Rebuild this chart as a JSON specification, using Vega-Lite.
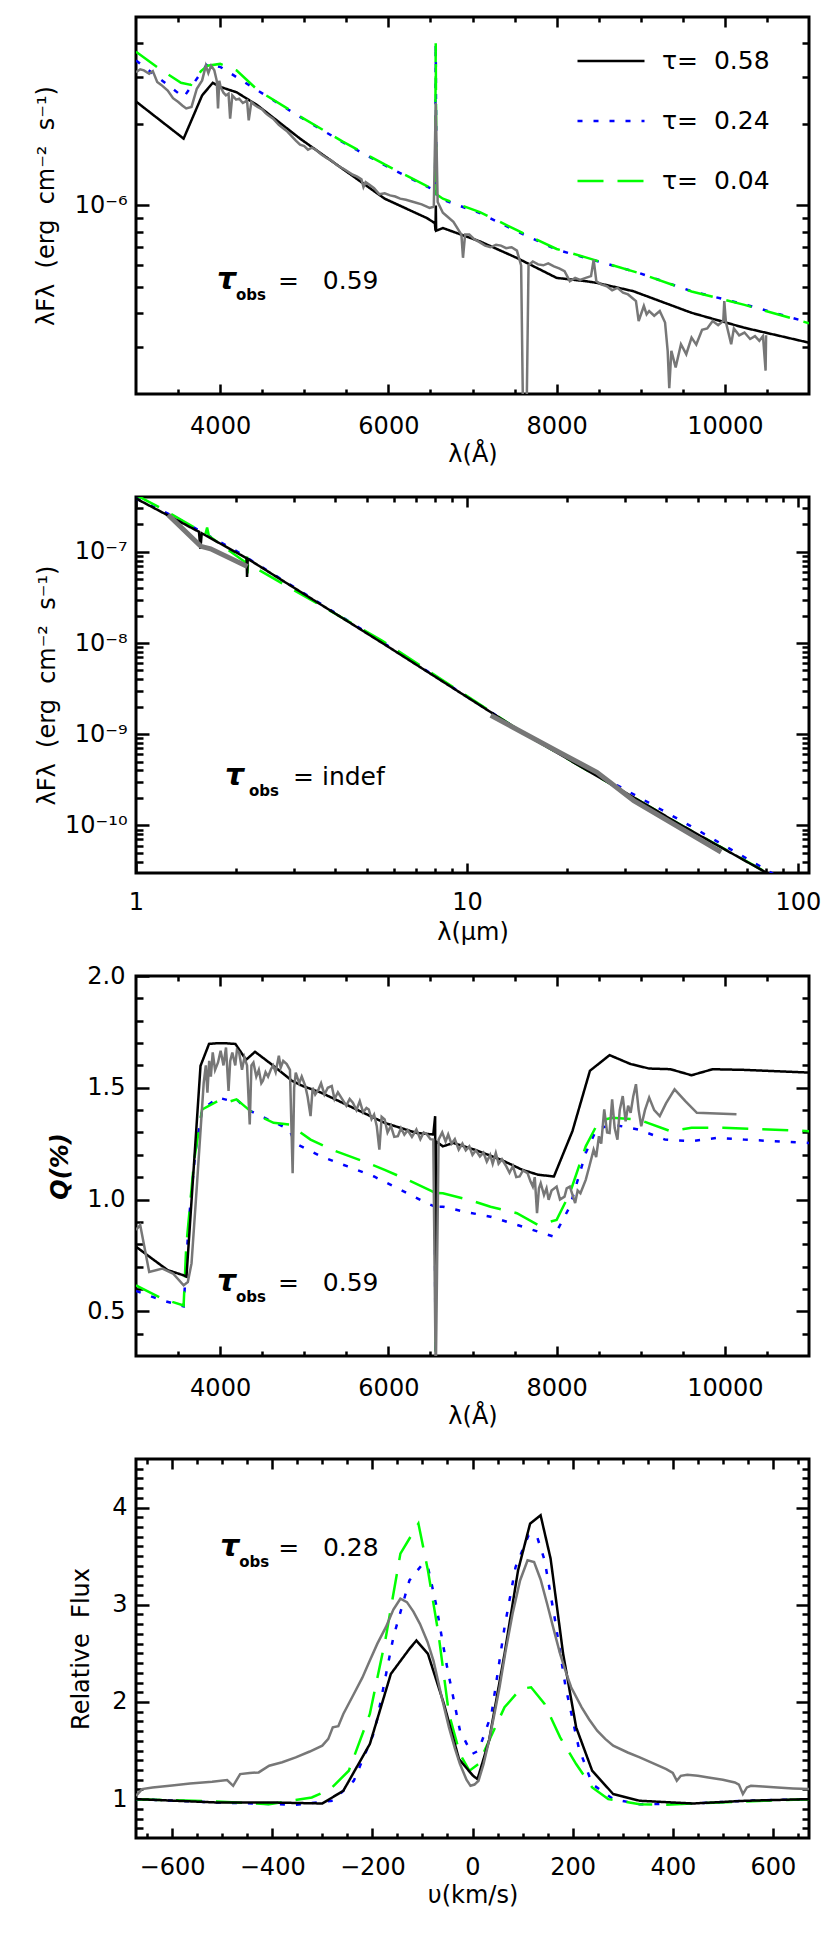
{
"$schema":"https://vega.github.io/schema/vega-lite/v6.json",
"background":"white",
"padding":{"left":32,"top":14,"right":5,"bottom":5},
"config":{
 "font":"DejaVu Sans",
 "view":{"stroke":"black","strokeWidth":3},
 "axis":{"domain":false,"grid":false,"tickColor":"black","tickWidth":2.5,"labelFont":"DejaVu Sans","labelFontSize":24,"labelColor":"black","titleFont":"DejaVu Sans","titleFontSize":24,"titleFontWeight":"normal","titleColor":"black","labelFlush":false,"labelOverlap":false,"labelBound":false}
},
"bounds":"flush",
"spacing":103,
"resolve":{"scale":{"x":"independent","y":"independent","color":"independent","strokeDash":"independent"},"legend":{"color":"independent","strokeDash":"independent"}},
"datasets":{
"p1obs":[{"x":3000,"y":3.12e-6},{"x":3050,"y":3.2e-6},{"x":3094,"y":3.17e-6},{"x":3157,"y":3.08e-6},{"x":3200,"y":3.15e-6},{"x":3252,"y":2.87e-6},{"x":3300,"y":2.8e-6},{"x":3377,"y":2.67e-6},{"x":3440,"y":2.5e-6},{"x":3503,"y":2.42e-6},{"x":3550,"y":2.35e-6},{"x":3597,"y":2.29e-6},{"x":3660,"y":2.32e-6},{"x":3723,"y":2.71e-6},{"x":3786,"y":2.91e-6},{"x":3830,"y":3.3e-6},{"x":3860,"y":3.1e-6},{"x":3893,"y":3.3e-6},{"x":3931,"y":3.17e-6},{"x":3960,"y":2.9e-6},{"x":3975,"y":2.29e-6},{"x":3990,"y":2.9e-6},{"x":4006,"y":2.75e-6},{"x":4040,"y":2.62e-6},{"x":4069,"y":2.56e-6},{"x":4100,"y":2.6e-6},{"x":4119,"y":2.1e-6},{"x":4145,"y":2.56e-6},{"x":4190,"y":2.47e-6},{"x":4226,"y":2.49e-6},{"x":4270,"y":2.4e-6},{"x":4320,"y":2.45e-6},{"x":4340,"y":2.07e-6},{"x":4371,"y":2.42e-6},{"x":4410,"y":2.36e-6},{"x":4446,"y":2.32e-6},{"x":4500,"y":2.27e-6},{"x":4540,"y":2.2e-6},{"x":4572,"y":2.16e-6},{"x":4630,"y":2.1e-6},{"x":4698,"y":1.99e-6},{"x":4760,"y":1.92e-6},{"x":4800,"y":1.88e-6},{"x":4855,"y":1.8e-6},{"x":4900,"y":1.74e-6},{"x":4950,"y":1.68e-6},{"x":5000,"y":1.66e-6},{"x":5044,"y":1.61e-6},{"x":5090,"y":1.64e-6},{"x":5138,"y":1.61e-6},{"x":5200,"y":1.55e-6},{"x":5264,"y":1.5e-6},{"x":5320,"y":1.47e-6},{"x":5390,"y":1.41e-6},{"x":5480,"y":1.36e-6},{"x":5578,"y":1.3e-6},{"x":5630,"y":1.28e-6},{"x":5680,"y":1.25e-6},{"x":5704,"y":1.17e-6},{"x":5730,"y":1.22e-6},{"x":5780,"y":1.19e-6},{"x":5830,"y":1.16e-6},{"x":5893,"y":1.1e-6},{"x":5956,"y":1.11e-6},{"x":6020,"y":1.09e-6},{"x":6082,"y":1.08e-6},{"x":6140,"y":1.06e-6},{"x":6208,"y":1.05e-6},{"x":6300,"y":1.03e-6},{"x":6396,"y":1.01e-6},{"x":6490,"y":9.8e-7},{"x":6540,"y":9.9e-7},{"x":6563,"y":2.4e-6},{"x":6586,"y":1.03e-6},{"x":6648,"y":9.4e-7},{"x":6700,"y":9.1e-7},{"x":6773,"y":8.7e-7},{"x":6868,"y":7.8e-7},{"x":6887,"y":6.4e-7},{"x":6912,"y":7.8e-7},{"x":6962,"y":7.8e-7},{"x":7020,"y":7.5e-7},{"x":7088,"y":7.3e-7},{"x":7150,"y":7.1e-7},{"x":7214,"y":7.0e-7},{"x":7280,"y":7.15e-7},{"x":7339,"y":7.1e-7},{"x":7400,"y":6.95e-7},{"x":7465,"y":7.0e-7},{"x":7528,"y":6.8e-7},{"x":7578,"y":6.0e-7},{"x":7603,"y":1.5e-7},{"x":7641,"y":1.5e-7},{"x":7666,"y":6.0e-7},{"x":7717,"y":6.2e-7},{"x":7780,"y":6.05e-7},{"x":7842,"y":6.0e-7},{"x":7900,"y":6.1e-7},{"x":7968,"y":5.95e-7},{"x":8030,"y":5.85e-7},{"x":8094,"y":5.71e-7},{"x":8157,"y":5.24e-7},{"x":8220,"y":5.39e-7},{"x":8280,"y":5.3e-7},{"x":8346,"y":5.39e-7},{"x":8409,"y":5.47e-7},{"x":8440,"y":6.3e-7},{"x":8472,"y":5.24e-7},{"x":8530,"y":5.1e-7},{"x":8597,"y":5.02e-7},{"x":8660,"y":4.85e-7},{"x":8723,"y":4.95e-7},{"x":8790,"y":4.75e-7},{"x":8849,"y":4.68e-7},{"x":8943,"y":4.42e-7},{"x":8975,"y":3.73e-7},{"x":9037,"y":4.24e-7},{"x":9070,"y":3.95e-7},{"x":9100,"y":4.06e-7},{"x":9160,"y":3.9e-7},{"x":9226,"y":4.06e-7},{"x":9289,"y":3.68e-7},{"x":9320,"y":2.89e-7},{"x":9339,"y":2.1e-7},{"x":9364,"y":2.89e-7},{"x":9415,"y":2.51e-7},{"x":9478,"y":3.06e-7},{"x":9541,"y":2.81e-7},{"x":9604,"y":3.24e-7},{"x":9660,"y":3.05e-7},{"x":9729,"y":3.46e-7},{"x":9790,"y":3.5e-7},{"x":9855,"y":3.73e-7},{"x":9920,"y":3.6e-7},{"x":9981,"y":3.73e-7},{"x":9993,"y":4.42e-7},{"x":10012,"y":3.7e-7},{"x":10075,"y":3.06e-7},{"x":10107,"y":3.5e-7},{"x":10170,"y":3.3e-7},{"x":10233,"y":3.38e-7},{"x":10300,"y":3.2e-7},{"x":10358,"y":3.28e-7},{"x":10410,"y":3.15e-7},{"x":10453,"y":3.28e-7},{"x":10484,"y":2.44e-7},{"x":10490,"y":3.3e-7}],
"p1mod":[
{"s":"0.24","x":3000,"y":3.45e-6},{"s":"0.24","x":3566,"y":2.52e-6},{"s":"0.24","x":3849,"y":3.35e-6},{"s":"0.24","x":4006,"y":3.26e-6},{"s":"0.24","x":4446,"y":2.67e-6},{"s":"0.24","x":4950,"y":2.13e-6},{"s":"0.24","x":5453,"y":1.72e-6},{"s":"0.24","x":5956,"y":1.41e-6},{"s":"0.24","x":6459,"y":1.175e-6},{"s":"0.24","x":6555,"y":1.14e-6},{"s":"0.24","x":6563,"y":4.0e-6},{"s":"0.24","x":6571,"y":1.1e-6},{"s":"0.24","x":6648,"y":1.05e-6},{"s":"0.24","x":7088,"y":9.37e-7},{"s":"0.24","x":7528,"y":8.02e-7},{"s":"0.24","x":8000,"y":6.86e-7},{"s":"0.24","x":8346,"y":6.39e-7},{"s":"0.24","x":8975,"y":5.63e-7},{"s":"0.24","x":9604,"y":4.81e-7},{"s":"0.24","x":10233,"y":4.3e-7},{"s":"0.24","x":11000,"y":3.68e-7},
{"s":"0.04","x":3000,"y":3.72e-6},{"s":"0.04","x":3262,"y":3.24e-6},{"s":"0.04","x":3535,"y":2.85e-6},{"s":"0.04","x":3654,"y":2.8e-6},{"s":"0.04","x":3773,"y":3.15e-6},{"s":"0.04","x":3850,"y":3.3e-6},{"s":"0.04","x":4000,"y":3.35e-6},{"s":"0.04","x":4195,"y":3.17e-6},{"s":"0.04","x":4446,"y":2.68e-6},{"s":"0.04","x":4950,"y":2.14e-6},{"s":"0.04","x":5453,"y":1.73e-6},{"s":"0.04","x":5956,"y":1.42e-6},{"s":"0.04","x":6459,"y":1.18e-6},{"s":"0.04","x":6555,"y":1.15e-6},{"s":"0.04","x":6563,"y":4.0e-6},{"s":"0.04","x":6571,"y":1.1e-6},{"s":"0.04","x":6648,"y":1.06e-6},{"s":"0.04","x":7088,"y":9.45e-7},{"s":"0.04","x":7528,"y":8.1e-7},{"s":"0.04","x":8000,"y":6.9e-7},{"s":"0.04","x":8346,"y":6.42e-7},{"s":"0.04","x":8975,"y":5.62e-7},{"s":"0.04","x":9604,"y":4.8e-7},{"s":"0.04","x":10233,"y":4.28e-7},{"s":"0.04","x":11000,"y":3.66e-7},
{"s":"0.58","x":3000,"y":2.43e-6},{"s":"0.58","x":3566,"y":1.77e-6},{"s":"0.58","x":3786,"y":2.56e-6},{"s":"0.58","x":3912,"y":2.85e-6},{"s":"0.58","x":4006,"y":2.75e-6},{"s":"0.58","x":4195,"y":2.63e-6},{"s":"0.58","x":4446,"y":2.35e-6},{"s":"0.58","x":4950,"y":1.77e-6},{"s":"0.58","x":5453,"y":1.37e-6},{"s":"0.58","x":5956,"y":1.06e-6},{"s":"0.58","x":6459,"y":8.98e-7},{"s":"0.58","x":6553,"y":8.6e-7},{"s":"0.58","x":6560,"y":8.06e-7},{"s":"0.58","x":6564,"y":1.0e-6},{"s":"0.58","x":6568,"y":8.06e-7},{"s":"0.58","x":6648,"y":8.25e-7},{"s":"0.58","x":7088,"y":7.36e-7},{"s":"0.58","x":7528,"y":6.39e-7},{"s":"0.58","x":8000,"y":5.39e-7},{"s":"0.58","x":8346,"y":5.24e-7},{"s":"0.58","x":8472,"y":5.17e-7},{"s":"0.58","x":8912,"y":4.81e-7},{"s":"0.58","x":9604,"y":4.0e-7},{"s":"0.58","x":10233,"y":3.52e-7},{"s":"0.58","x":11000,"y":3.1e-7}],
"p2obs":[{"g":"a","x":1.25,"y":2.55e-7},{"g":"a","x":1.57,"y":1.15e-7},{"g":"a","x":1.68,"y":1.08e-7},{"g":"a","x":2.17,"y":6.9e-8},{"g":"b","x":11.8,"y":1.61e-9},{"g":"b","x":19.05,"y":6.3e-10},{"g":"b","x":24.7,"y":3.82e-10},{"g":"b","x":31.9,"y":1.87e-10},{"g":"b","x":58.6,"y":5.1e-11}],
"p2mod":[
{"s":"0.24","x":1.0,"y":3.85e-7},{"s":"0.24","x":1.3,"y":2.45e-7},{"s":"0.24","x":2.01,"y":1.02e-7},{"s":"0.24","x":5.55,"y":1.02e-8},{"s":"0.24","x":15,"y":1.0e-9},{"s":"0.24","x":47,"y":1.0e-10},{"s":"0.24","x":86,"y":2.8e-11},
{"s":"0.04","x":1.0,"y":4.2e-7},{"s":"0.04","x":1.21,"y":2.92e-7},{"s":"0.04","x":1.5,"y":1.85e-7},{"s":"0.04","x":1.62,"y":1.55e-7},{"s":"0.04","x":1.64,"y":1.85e-7},{"s":"0.04","x":1.66,"y":1.5e-7},{"s":"0.04","x":2.15,"y":7.6e-8},{"s":"0.04","x":2.165,"y":1.04e-7},{"s":"0.04","x":2.17,"y":5.8e-8},{"s":"0.04","x":2.18,"y":7.4e-8},{"s":"0.04","x":5.55,"y":1.06e-8},{"s":"0.04","x":15,"y":1.0e-9},{"s":"0.04","x":44.5,"y":1.0e-10},{"s":"0.04","x":74,"y":3.6e-11},{"s":"0.04","x":90,"y":2.4e-11},
{"s":"0.58","x":1.0,"y":3.85e-7},{"s":"0.58","x":1.55,"y":1.66e-7},{"s":"0.58","x":1.565,"y":1.08e-7},{"s":"0.58","x":1.58,"y":1.6e-7},{"s":"0.58","x":2.16,"y":8.5e-8},{"s":"0.58","x":2.165,"y":5.3e-8},{"s":"0.58","x":2.175,"y":8.4e-8},{"s":"0.58","x":5.55,"y":1.0e-8},{"s":"0.58","x":15,"y":1.0e-9},{"s":"0.58","x":44.5,"y":1.0e-10},{"s":"0.58","x":80,"y":3.05e-11},{"s":"0.58","x":84,"y":2.7e-11}],
"p3obs":[{"x":3000,"y":0.864},{"x":3050,"y":0.886},{"x":3157,"y":0.676},{"x":3314,"y":0.691},{"x":3440,"y":0.669},{"x":3566,"y":0.616},{"x":3616,"y":0.631},{"x":3660,"y":0.714},{"x":3723,"y":1.058},{"x":3805,"y":1.523},{"x":3830,"y":1.6},{"x":3849,"y":1.478},{"x":3870,"y":1.62},{"x":3890,"y":1.55},{"x":3912,"y":1.658},{"x":3940,"y":1.58},{"x":3975,"y":1.613},{"x":4006,"y":1.666},{"x":4040,"y":1.6},{"x":4070,"y":1.68},{"x":4100,"y":1.486},{"x":4120,"y":1.62},{"x":4145,"y":1.658},{"x":4180,"y":1.6},{"x":4200,"y":1.67},{"x":4226,"y":1.658},{"x":4260,"y":1.58},{"x":4289,"y":1.636},{"x":4320,"y":1.6},{"x":4352,"y":1.336},{"x":4372,"y":1.6},{"x":4396,"y":1.613},{"x":4430,"y":1.55},{"x":4460,"y":1.58},{"x":4490,"y":1.52},{"x":4509,"y":1.531},{"x":4540,"y":1.57},{"x":4570,"y":1.55},{"x":4604,"y":1.583},{"x":4630,"y":1.6},{"x":4660,"y":1.57},{"x":4698,"y":1.643},{"x":4720,"y":1.59},{"x":4750,"y":1.62},{"x":4792,"y":1.606},{"x":4830,"y":1.58},{"x":4862,"y":1.118},{"x":4880,"y":1.5},{"x":4899,"y":1.568},{"x":4940,"y":1.52},{"x":4970,"y":1.55},{"x":5012,"y":1.508},{"x":5040,"y":1.46},{"x":5075,"y":1.373},{"x":5100,"y":1.5},{"x":5130,"y":1.47},{"x":5170,"y":1.493},{"x":5200,"y":1.52},{"x":5240,"y":1.47},{"x":5280,"y":1.5},{"x":5327,"y":1.508},{"x":5360,"y":1.45},{"x":5400,"y":1.48},{"x":5453,"y":1.448},{"x":5500,"y":1.42},{"x":5540,"y":1.45},{"x":5578,"y":1.433},{"x":5620,"y":1.4},{"x":5660,"y":1.44},{"x":5700,"y":1.39},{"x":5740,"y":1.41},{"x":5767,"y":1.403},{"x":5800,"y":1.36},{"x":5830,"y":1.38},{"x":5862,"y":1.328},{"x":5893,"y":1.223},{"x":5920,"y":1.37},{"x":5956,"y":1.358},{"x":5990,"y":1.3},{"x":6030,"y":1.33},{"x":6070,"y":1.28},{"x":6113,"y":1.283},{"x":6150,"y":1.32},{"x":6190,"y":1.29},{"x":6230,"y":1.31},{"x":6280,"y":1.28},{"x":6333,"y":1.313},{"x":6380,"y":1.27},{"x":6420,"y":1.3},{"x":6459,"y":1.291},{"x":6500,"y":1.27},{"x":6534,"y":1.268},{"x":6563,"y":0.2},{"x":6597,"y":1.268},{"x":6640,"y":1.3},{"x":6680,"y":1.26},{"x":6711,"y":1.291},{"x":6750,"y":1.25},{"x":6790,"y":1.27},{"x":6836,"y":1.223},{"x":6880,"y":1.25},{"x":6920,"y":1.22},{"x":6962,"y":1.238},{"x":7000,"y":1.2},{"x":7040,"y":1.22},{"x":7088,"y":1.193},{"x":7130,"y":1.21},{"x":7170,"y":1.17},{"x":7210,"y":1.2},{"x":7240,"y":1.16},{"x":7277,"y":1.208},{"x":7310,"y":1.16},{"x":7350,"y":1.18},{"x":7402,"y":1.148},{"x":7440,"y":1.12},{"x":7480,"y":1.15},{"x":7520,"y":1.1},{"x":7560,"y":1.103},{"x":7600,"y":1.13},{"x":7654,"y":1.118},{"x":7690,"y":1.08},{"x":7717,"y":1.058},{"x":7740,"y":1.1},{"x":7767,"y":0.939},{"x":7790,"y":1.05},{"x":7811,"y":1.073},{"x":7850,"y":1.02},{"x":7880,"y":1.05},{"x":7905,"y":0.999},{"x":7940,"y":1.04},{"x":8000,"y":1.058},{"x":8040,"y":1.0},{"x":8094,"y":1.013},{"x":8120,"y":1.05},{"x":8157,"y":1.058},{"x":8190,"y":1.02},{"x":8220,"y":0.984},{"x":8250,"y":1.04},{"x":8283,"y":1.028},{"x":8346,"y":1.088},{"x":8390,"y":1.15},{"x":8440,"y":1.223},{"x":8470,"y":1.19},{"x":8503,"y":1.283},{"x":8530,"y":1.25},{"x":8566,"y":1.403},{"x":8600,"y":1.3},{"x":8629,"y":1.298},{"x":8660,"y":1.448},{"x":8690,"y":1.32},{"x":8723,"y":1.268},{"x":8750,"y":1.4},{"x":8786,"y":1.463},{"x":8820,"y":1.35},{"x":8850,"y":1.42},{"x":8880,"y":1.388},{"x":8910,"y":1.46},{"x":8943,"y":1.516},{"x":8975,"y":1.4},{"x":9006,"y":1.328},{"x":9050,"y":1.4},{"x":9100,"y":1.456},{"x":9160,"y":1.4},{"x":9226,"y":1.373},{"x":9300,"y":1.43},{"x":9402,"y":1.493},{"x":9530,"y":1.44},{"x":9667,"y":1.388},{"x":10138,"y":1.381}],
"p3mod":[
{"s":"0.24","x":3000,"y":0.591},{"s":"0.24","x":3314,"y":0.549},{"s":"0.24","x":3566,"y":0.522},{"s":"0.24","x":3629,"y":0.909},{"s":"0.24","x":3704,"y":1.208},{"s":"0.24","x":3786,"y":1.403},{"s":"0.24","x":3975,"y":1.456},{"s":"0.24","x":4132,"y":1.441},{"s":"0.24","x":4195,"y":1.448},{"s":"0.24","x":4321,"y":1.403},{"s":"0.24","x":4572,"y":1.358},{"s":"0.24","x":4824,"y":1.313},{"s":"0.24","x":4887,"y":1.253},{"s":"0.24","x":5201,"y":1.193},{"s":"0.24","x":5516,"y":1.148},{"s":"0.24","x":5830,"y":1.103},{"s":"0.24","x":6145,"y":1.043},{"s":"0.24","x":6459,"y":0.983},{"s":"0.24","x":6553,"y":0.968},{"s":"0.24","x":6560,"y":0.2},{"s":"0.24","x":6566,"y":0.968},{"s":"0.24","x":6648,"y":0.968},{"s":"0.24","x":6899,"y":0.946},{"s":"0.24","x":7214,"y":0.923},{"s":"0.24","x":7591,"y":0.879},{"s":"0.24","x":7968,"y":0.834},{"s":"0.24","x":8157,"y":0.968},{"s":"0.24","x":8346,"y":1.208},{"s":"0.24","x":8472,"y":1.313},{"s":"0.24","x":8660,"y":1.336},{"s":"0.24","x":8975,"y":1.313},{"s":"0.24","x":9289,"y":1.268},{"s":"0.24","x":9604,"y":1.261},{"s":"0.24","x":9918,"y":1.276},{"s":"0.24","x":10233,"y":1.268},{"s":"0.24","x":11000,"y":1.253},
{"s":"0.04","x":3000,"y":0.616},{"s":"0.04","x":3314,"y":0.556},{"s":"0.04","x":3566,"y":0.526},{"s":"0.04","x":3597,"y":0.789},{"s":"0.04","x":3692,"y":1.178},{"s":"0.04","x":3786,"y":1.403},{"s":"0.04","x":3975,"y":1.441},{"s":"0.04","x":4069,"y":1.433},{"s":"0.04","x":4195,"y":1.448},{"s":"0.04","x":4384,"y":1.388},{"s":"0.04","x":4635,"y":1.343},{"s":"0.04","x":4824,"y":1.336},{"s":"0.04","x":5075,"y":1.268},{"s":"0.04","x":5327,"y":1.223},{"s":"0.04","x":5704,"y":1.171},{"s":"0.04","x":5956,"y":1.133},{"s":"0.04","x":6270,"y":1.081},{"s":"0.04","x":6522,"y":1.036},{"s":"0.04","x":6557,"y":1.03},{"s":"0.04","x":6562,"y":0.2},{"s":"0.04","x":6567,"y":1.03},{"s":"0.04","x":6648,"y":1.028},{"s":"0.04","x":6962,"y":0.998},{"s":"0.04","x":7214,"y":0.968},{"s":"0.04","x":7528,"y":0.939},{"s":"0.04","x":7780,"y":0.886},{"s":"0.04","x":8000,"y":0.909},{"s":"0.04","x":8157,"y":1.028},{"s":"0.04","x":8346,"y":1.238},{"s":"0.04","x":8503,"y":1.351},{"s":"0.04","x":8660,"y":1.366},{"s":"0.04","x":8975,"y":1.358},{"s":"0.04","x":9352,"y":1.306},{"s":"0.04","x":9604,"y":1.321},{"s":"0.04","x":9981,"y":1.321},{"s":"0.04","x":11000,"y":1.306},
{"s":"0.58","x":3000,"y":0.789},{"s":"0.58","x":3189,"y":0.736},{"s":"0.58","x":3377,"y":0.684},{"s":"0.58","x":3566,"y":0.661},{"s":"0.58","x":3600,"y":0.655},{"s":"0.58","x":3767,"y":1.598},{"s":"0.58","x":3868,"y":1.696},{"s":"0.58","x":3956,"y":1.699},{"s":"0.58","x":4069,"y":1.699},{"s":"0.58","x":4182,"y":1.696},{"s":"0.58","x":4308,"y":1.625},{"s":"0.58","x":4415,"y":1.661},{"s":"0.58","x":4635,"y":1.598},{"s":"0.58","x":4855,"y":1.531},{"s":"0.58","x":4981,"y":1.508},{"s":"0.58","x":5201,"y":1.478},{"s":"0.58","x":5453,"y":1.433},{"s":"0.58","x":5704,"y":1.388},{"s":"0.58","x":5956,"y":1.343},{"s":"0.58","x":6333,"y":1.298},{"s":"0.58","x":6534,"y":1.291},{"s":"0.58","x":6556,"y":1.373},{"s":"0.58","x":6560,"y":0.55},{"s":"0.58","x":6566,"y":1.26},{"s":"0.58","x":6648,"y":1.238},{"s":"0.58","x":6773,"y":1.253},{"s":"0.58","x":7025,"y":1.223},{"s":"0.58","x":7339,"y":1.178},{"s":"0.58","x":7591,"y":1.133},{"s":"0.58","x":7780,"y":1.111},{"s":"0.58","x":7968,"y":1.103},{"s":"0.58","x":8188,"y":1.306},{"s":"0.58","x":8396,"y":1.576},{"s":"0.58","x":8629,"y":1.646},{"s":"0.58","x":8880,"y":1.606},{"s":"0.58","x":9100,"y":1.586},{"s":"0.58","x":9352,"y":1.583},{"s":"0.58","x":9604,"y":1.556},{"s":"0.58","x":9855,"y":1.583},{"s":"0.58","x":10233,"y":1.58},{"s":"0.58","x":11000,"y":1.568}],
"p4obs":[{"x":-672,"y":1.034},{"x":-660,"y":1.103},{"x":-639,"y":1.12},{"x":-600,"y":1.14},{"x":-564,"y":1.162},{"x":-520,"y":1.18},{"x":-490,"y":1.196},{"x":-478,"y":1.137},{"x":-464,"y":1.258},{"x":-445,"y":1.27},{"x":-427,"y":1.275},{"x":-406,"y":1.344},{"x":-380,"y":1.38},{"x":-353,"y":1.43},{"x":-325,"y":1.49},{"x":-300,"y":1.55},{"x":-288,"y":1.62},{"x":-279,"y":1.739},{"x":-268,"y":1.75},{"x":-258,"y":1.876},{"x":-237,"y":2.082},{"x":-220,"y":2.25},{"x":-205,"y":2.426},{"x":-190,"y":2.6},{"x":-173,"y":2.77},{"x":-158,"y":2.95},{"x":-144,"y":3.062},{"x":-131,"y":3.027},{"x":-118,"y":2.93},{"x":-105,"y":2.804},{"x":-90,"y":2.62},{"x":-78,"y":2.426},{"x":-62,"y":2.06},{"x":-47,"y":1.739},{"x":-35,"y":1.52},{"x":-25,"y":1.361},{"x":-12,"y":1.2},{"x":-4,"y":1.137},{"x":4,"y":1.15},{"x":12,"y":1.189},{"x":22,"y":1.36},{"x":33,"y":1.601},{"x":44,"y":1.88},{"x":54,"y":2.151},{"x":66,"y":2.52},{"x":80,"y":2.907},{"x":95,"y":3.25},{"x":110,"y":3.457},{"x":123,"y":3.44},{"x":136,"y":3.26},{"x":149,"y":3.01},{"x":162,"y":2.75},{"x":175,"y":2.495},{"x":187,"y":2.3},{"x":197,"y":2.151},{"x":218,"y":1.945},{"x":233,"y":1.82},{"x":249,"y":1.704},{"x":265,"y":1.62},{"x":281,"y":1.55},{"x":310,"y":1.48},{"x":334,"y":1.43},{"x":360,"y":1.37},{"x":387,"y":1.309},{"x":400,"y":1.27},{"x":408,"y":1.189},{"x":416,"y":1.24},{"x":429,"y":1.251},{"x":450,"y":1.24},{"x":471,"y":1.223},{"x":500,"y":1.2},{"x":524,"y":1.172},{"x":532,"y":1.15},{"x":540,"y":1.052},{"x":548,"y":1.12},{"x":556,"y":1.137},{"x":580,"y":1.13},{"x":609,"y":1.12},{"x":640,"y":1.11},{"x":672,"y":1.103}],
"p4mod":[
{"s":"0.24","x":-672,"y":1.0},{"s":"0.24","x":-512,"y":0.966},{"s":"0.24","x":-353,"y":0.942},{"s":"0.24","x":-279,"y":0.983},{"s":"0.24","x":-237,"y":1.189},{"s":"0.24","x":-195,"y":1.704},{"s":"0.24","x":-158,"y":2.667},{"s":"0.24","x":-126,"y":3.251},{"s":"0.24","x":-99,"y":3.423},{"s":"0.24","x":-89,"y":3.388},{"s":"0.24","x":-73,"y":3.01},{"s":"0.24","x":-52,"y":2.392},{"s":"0.24","x":-25,"y":1.704},{"s":"0.24","x":-1,"y":1.464},{"s":"0.24","x":12,"y":1.498},{"s":"0.24","x":38,"y":1.876},{"s":"0.24","x":64,"y":2.77},{"s":"0.24","x":86,"y":3.388},{"s":"0.24","x":112,"y":3.715},{"s":"0.24","x":128,"y":3.715},{"s":"0.24","x":144,"y":3.457},{"s":"0.24","x":165,"y":2.838},{"s":"0.24","x":186,"y":2.151},{"s":"0.24","x":212,"y":1.533},{"s":"0.24","x":239,"y":1.155},{"s":"0.24","x":281,"y":1.0},{"s":"0.24","x":334,"y":0.948},{"s":"0.24","x":440,"y":0.955},{"s":"0.24","x":545,"y":0.983},{"s":"0.24","x":672,"y":1.0},
{"s":"0.04","x":-672,"y":1.0},{"s":"0.04","x":-512,"y":0.976},{"s":"0.04","x":-406,"y":0.948},{"s":"0.04","x":-321,"y":1.017},{"s":"0.04","x":-284,"y":1.103},{"s":"0.04","x":-247,"y":1.292},{"s":"0.04","x":-205,"y":1.876},{"s":"0.04","x":-173,"y":2.667},{"s":"0.04","x":-144,"y":3.526},{"s":"0.04","x":-108,"y":3.835},{"s":"0.04","x":-89,"y":3.354},{"s":"0.04","x":-68,"y":2.701},{"s":"0.04","x":-47,"y":1.876},{"s":"0.04","x":-25,"y":1.464},{"s":"0.04","x":-6,"y":1.292},{"s":"0.04","x":12,"y":1.361},{"s":"0.04","x":33,"y":1.601},{"s":"0.04","x":64,"y":1.945},{"s":"0.04","x":96,"y":2.134},{"s":"0.04","x":117,"y":2.151},{"s":"0.04","x":144,"y":1.979},{"s":"0.04","x":175,"y":1.636},{"s":"0.04","x":207,"y":1.361},{"s":"0.04","x":239,"y":1.12},{"s":"0.04","x":271,"y":1.0},{"s":"0.04","x":334,"y":0.948},{"s":"0.04","x":387,"y":0.942},{"s":"0.04","x":493,"y":0.966},{"s":"0.04","x":672,"y":1.0},
{"s":"0.58","x":-672,"y":1.0},{"s":"0.58","x":-512,"y":0.966},{"s":"0.58","x":-406,"y":0.966},{"s":"0.58","x":-300,"y":0.955},{"s":"0.58","x":-258,"y":1.086},{"s":"0.58","x":-205,"y":1.567},{"s":"0.58","x":-163,"y":2.289},{"s":"0.58","x":-126,"y":2.546},{"s":"0.58","x":-112,"y":2.632},{"s":"0.58","x":-89,"y":2.495},{"s":"0.58","x":-57,"y":1.979},{"s":"0.58","x":-27,"y":1.412},{"s":"0.58","x":1,"y":1.241},{"s":"0.58","x":10,"y":1.206},{"s":"0.58","x":33,"y":1.601},{"s":"0.58","x":64,"y":2.495},{"s":"0.58","x":91,"y":3.354},{"s":"0.58","x":115,"y":3.835},{"s":"0.58","x":136,"y":3.921},{"s":"0.58","x":156,"y":3.474},{"s":"0.58","x":181,"y":2.495},{"s":"0.58","x":207,"y":1.739},{"s":"0.58","x":239,"y":1.292},{"s":"0.58","x":281,"y":1.052},{"s":"0.58","x":334,"y":0.983},{"s":"0.58","x":440,"y":0.955},{"s":"0.58","x":545,"y":0.983},{"s":"0.58","x":672,"y":1.0}]
},
"vconcat":[
{"width":673,"height":377,
 "resolve":{"axis":{"x":"independent","y":"independent"}},
 "layer":[
  {"data":{"name":"p1mod"},"mark":{"type":"line","strokeWidth":2.5,"clip":true},
   "encoding":{
    "x":{"field":"x","type":"quantitative","scale":{"domain":[3000,11000],"nice":false,"zero":false},"axis":{"orient":"bottom","values":[3500,4500,5000,5500,6500,7000,7500,8500,9000,9500,10500],"tickSize":-5,"labels":false,"title":null}},
    "y":{"field":"y","type":"quantitative","scale":{"type":"log","domain":[2e-7,5e-6],"nice":false},"axis":{"orient":"left","values":[3e-7,4e-7,5e-7,6e-7,7e-7,8e-7,9e-7,2e-6,3e-6,4e-6],"tickSize":-7,"labels":false,"title":null}},
    "color":{"field":"s","type":"nominal","scale":{"domain":["0.58","0.24","0.04"],"range":["#000000","#0000ff","#00ff00"]},"legend":{"orient":"none","legendX":440,"legendY":9,"title":null,"symbolType":"stroke","symbolSize":4489,"symbolStrokeWidth":2.5,"labelFontSize":25,"labelFont":"DejaVu Sans","labelColor":"black","labelOffset":16,"rowPadding":12,"padding":0,"labelExpr":"'τ=\u00a0 ' + datum.label"}},
    "strokeDash":{"field":"s","type":"nominal","scale":{"domain":["0.58","0.24","0.04"],"range":[[1,0],[5,11],[26,14]]},"legend":{"orient":"none","legendX":440,"legendY":9,"title":null,"symbolType":"stroke","symbolSize":4489,"symbolStrokeWidth":2.5,"labelFontSize":25,"labelFont":"DejaVu Sans","labelColor":"black","labelOffset":16,"rowPadding":12,"padding":0,"labelExpr":"'τ=\u00a0 ' + datum.label"}}
   }},
  {"data":{"name":"p1obs"},"mark":{"type":"line","color":"#777777","strokeWidth":2.5,"clip":true},
   "encoding":{
    "x":{"field":"x","type":"quantitative","axis":{"orient":"bottom","values":[4000,6000,8000,10000],"format":"d","tickSize":-10,"labelPadding":30,"title":"λ(Å)","titlePadding":4}},
    "y":{"field":"y","type":"quantitative","axis":{"orient":"left","values":[1e-6],"tickSize":-13,"labelPadding":22,"labelExpr":"'10⁻⁶'","title":"λFλ\u00a0\u00a0(erg\u00a0\u00a0cm⁻²\u00a0\u00a0s⁻¹)","titlePadding":16}}
   }},
  {"data":{"name":"p1obs"},"mark":{"type":"line","opacity":0},
   "encoding":{
    "x":{"field":"x","type":"quantitative","axis":{"orient":"top","values":[4000,6000,8000,10000],"tickSize":-10,"labels":false,"title":null}},
    "y":{"field":"y","type":"quantitative","axis":{"orient":"right","values":[1e-6],"tickSize":-13,"labels":false,"title":null}}
   }},
  {"data":{"name":"p1obs"},"mark":{"type":"line","opacity":0},
   "encoding":{
    "x":{"field":"x","type":"quantitative","axis":{"orient":"top","values":[3500,4500,5000,5500,6500,7000,7500,8500,9000,9500,10500],"tickSize":-5,"labels":false,"title":null}},
    "y":{"field":"y","type":"quantitative","axis":{"orient":"right","values":[3e-7,4e-7,5e-7,6e-7,7e-7,8e-7,9e-7,2e-6,3e-6,4e-6],"tickSize":-7,"labels":false,"title":null}}
   }},
  {"data":{"values":[{"x":3963,"y":4.9e-7}]},"mark":{"type":"text","text":"τ","align":"left","baseline":"alphabetic","fontSize":30,"fontWeight":"bold","fontStyle":"italic"},
   "encoding":{"x":{"field":"x","type":"quantitative","axis":null},"y":{"field":"y","type":"quantitative","axis":null}}},
  {"data":{"values":[{"x":3963,"y":4.9e-7}]},"mark":{"type":"text","text":"obs","align":"left","baseline":"alphabetic","fontSize":15,"fontWeight":"bold","dx":19,"dy":11},
   "encoding":{"x":{"field":"x","type":"quantitative","axis":null},"y":{"field":"y","type":"quantitative","axis":null}}},
  {"data":{"values":[{"x":3963,"y":4.9e-7}]},"mark":{"type":"text","text":"=\u00a0\u00a0\u00a00.59","align":"left","baseline":"alphabetic","fontSize":25,"dx":61},
   "encoding":{"x":{"field":"x","type":"quantitative","axis":null},"y":{"field":"y","type":"quantitative","axis":null}}}
 ]},
{"width":673,"height":376,
 "resolve":{"axis":{"x":"independent","y":"independent"}},
 "layer":[
  {"data":{"name":"p2mod"},"mark":{"type":"line","strokeWidth":2.5,"clip":true},
   "encoding":{
    "x":{"field":"x","type":"quantitative","scale":{"type":"log","domain":[1,108],"nice":false},"axis":{"orient":"bottom","values":[2,3,4,5,6,7,8,9,20,30,40,50,60,70,80,90],"tickSize":-5,"labels":false,"title":null}},
    "y":{"field":"y","type":"quantitative","scale":{"type":"log","domain":[3e-11,4e-7],"nice":false},"axis":{"orient":"left","values":[4e-11,5e-11,6e-11,7e-11,8e-11,9e-11,2e-10,3e-10,4e-10,5e-10,6e-10,7e-10,8e-10,9e-10,2e-9,3e-9,4e-9,5e-9,6e-9,7e-9,8e-9,9e-9,2e-8,3e-8,4e-8,5e-8,6e-8,7e-8,8e-8,9e-8,2e-7,3e-7],"tickSize":-7,"labels":false,"title":null}},
    "color":{"field":"s","type":"nominal","scale":{"domain":["0.58","0.24","0.04"],"range":["#000000","#0000ff","#00ff00"]},"legend":null},
    "strokeDash":{"field":"s","type":"nominal","scale":{"domain":["0.58","0.24","0.04"],"range":[[1,0],[5,11],[26,14]]},"legend":null}
   }},
  {"data":{"name":"p2obs"},"mark":{"type":"line","color":"#777777","strokeWidth":5,"clip":true},
   "encoding":{
    "detail":{"field":"g"},
    "x":{"field":"x","type":"quantitative","axis":{"orient":"bottom","values":[1,10,100],"format":"d","tickSize":-10,"labelPadding":27,"title":"λ(μm)","titlePadding":6}},
    "y":{"field":"y","type":"quantitative","axis":{"orient":"left","values":[1e-10,1e-9,1e-8,1e-7],"tickSize":-13,"labelPadding":22,"labelExpr":"datum.value > 5e-8 ? '10⁻⁷' : datum.value > 5e-9 ? '10⁻⁸' : datum.value > 5e-10 ? '10⁻⁹' : '10⁻¹⁰'","title":"λFλ\u00a0\u00a0(erg\u00a0\u00a0cm⁻²\u00a0\u00a0s⁻¹)","titlePadding":5}}
   }},
  {"data":{"name":"p2obs"},"mark":{"type":"line","opacity":0},
   "encoding":{
    "x":{"field":"x","type":"quantitative","axis":{"orient":"top","values":[1,10,100],"tickSize":-10,"labels":false,"title":null}},
    "y":{"field":"y","type":"quantitative","axis":{"orient":"right","values":[1e-10,1e-9,1e-8,1e-7],"tickSize":-13,"labels":false,"title":null}}
   }},
  {"data":{"name":"p2obs"},"mark":{"type":"line","opacity":0},
   "encoding":{
    "x":{"field":"x","type":"quantitative","axis":{"orient":"top","values":[2,3,4,5,6,7,8,9,20,30,40,50,60,70,80,90],"tickSize":-5,"labels":false,"title":null}},
    "y":{"field":"y","type":"quantitative","axis":{"orient":"right","values":[4e-11,5e-11,6e-11,7e-11,8e-11,9e-11,2e-10,3e-10,4e-10,5e-10,6e-10,7e-10,8e-10,9e-10,2e-9,3e-9,4e-9,5e-9,6e-9,7e-9,8e-9,9e-9,2e-8,3e-8,4e-8,5e-8,6e-8,7e-8,8e-8,9e-8,2e-7,3e-7],"tickSize":-7,"labels":false,"title":null}}
   }},
  {"data":{"values":[{"x":1.858,"y":2.77e-10}]},"mark":{"type":"text","text":"τ","align":"left","baseline":"alphabetic","fontSize":30,"fontWeight":"bold","fontStyle":"italic"},
   "encoding":{"x":{"field":"x","type":"quantitative","axis":null},"y":{"field":"y","type":"quantitative","axis":null}}},
  {"data":{"values":[{"x":1.858,"y":2.77e-10}]},"mark":{"type":"text","text":"obs","align":"left","baseline":"alphabetic","fontSize":15,"fontWeight":"bold","dx":24,"dy":11},
   "encoding":{"x":{"field":"x","type":"quantitative","axis":null},"y":{"field":"y","type":"quantitative","axis":null}}},
  {"data":{"values":[{"x":1.858,"y":2.77e-10}]},"mark":{"type":"text","text":"= indef","align":"left","baseline":"alphabetic","fontSize":25,"dx":68},
   "encoding":{"x":{"field":"x","type":"quantitative","axis":null},"y":{"field":"y","type":"quantitative","axis":null}}}
 ]},
{"width":673,"height":380,
 "resolve":{"axis":{"x":"independent","y":"independent"}},
 "layer":[
  {"data":{"name":"p3mod"},"mark":{"type":"line","strokeWidth":2.5,"clip":true},
   "encoding":{
    "x":{"field":"x","type":"quantitative","scale":{"domain":[3000,11000],"nice":false,"zero":false},"axis":{"orient":"bottom","values":[3500,4500,5000,5500,6500,7000,7500,8500,9000,9500,10500],"tickSize":-5,"labels":false,"title":null}},
    "y":{"field":"y","type":"quantitative","scale":{"domain":[0.3,2.0],"nice":false,"zero":false},"axis":{"orient":"left","values":[0.4,0.6,0.7,0.8,0.9,1.1,1.2,1.3,1.4,1.6,1.7,1.8,1.9],"tickSize":-7,"labels":false,"title":null}},
    "color":{"field":"s","type":"nominal","scale":{"domain":["0.58","0.24","0.04"],"range":["#000000","#0000ff","#00ff00"]},"legend":null},
    "strokeDash":{"field":"s","type":"nominal","scale":{"domain":["0.58","0.24","0.04"],"range":[[1,0],[5,11],[26,14]]},"legend":null}
   }},
  {"data":{"name":"p3obs"},"mark":{"type":"line","color":"#777777","strokeWidth":2.5,"clip":true},
   "encoding":{
    "x":{"field":"x","type":"quantitative","axis":{"orient":"bottom","values":[4000,6000,8000,10000],"format":"d","tickSize":-10,"labelPadding":30,"title":"λ(Å)","titlePadding":4}},
    "y":{"field":"y","type":"quantitative","axis":{"orient":"left","values":[0.5,1.0,1.5,2.0],"format":".1f","tickSize":-13,"labelPadding":24,"title":"Q(%)","titleFontStyle":"italic","titleFontWeight":"bold","titlePadding":14}}
   }},
  {"data":{"name":"p3obs"},"mark":{"type":"line","opacity":0},
   "encoding":{
    "x":{"field":"x","type":"quantitative","axis":{"orient":"top","values":[4000,6000,8000,10000],"tickSize":-10,"labels":false,"title":null}},
    "y":{"field":"y","type":"quantitative","axis":{"orient":"right","values":[0.5,1.0,1.5],"tickSize":-13,"labels":false,"title":null}}
   }},
  {"data":{"name":"p3obs"},"mark":{"type":"line","opacity":0},
   "encoding":{
    "x":{"field":"x","type":"quantitative","axis":{"orient":"top","values":[3500,4500,5000,5500,6500,7000,7500,8500,9000,9500,10500],"tickSize":-5,"labels":false,"title":null}},
    "y":{"field":"y","type":"quantitative","axis":{"orient":"right","values":[0.4,0.6,0.7,0.8,0.9,1.1,1.2,1.3,1.4,1.6,1.7,1.8,1.9],"tickSize":-7,"labels":false,"title":null}}
   }},
  {"data":{"values":[{"x":3963,"y":0.592}]},"mark":{"type":"text","text":"τ","align":"left","baseline":"alphabetic","fontSize":30,"fontWeight":"bold","fontStyle":"italic"},
   "encoding":{"x":{"field":"x","type":"quantitative","axis":null},"y":{"field":"y","type":"quantitative","axis":null}}},
  {"data":{"values":[{"x":3963,"y":0.592}]},"mark":{"type":"text","text":"obs","align":"left","baseline":"alphabetic","fontSize":15,"fontWeight":"bold","dx":19,"dy":11},
   "encoding":{"x":{"field":"x","type":"quantitative","axis":null},"y":{"field":"y","type":"quantitative","axis":null}}},
  {"data":{"values":[{"x":3963,"y":0.592}]},"mark":{"type":"text","text":"=\u00a0\u00a0\u00a00.59","align":"left","baseline":"alphabetic","fontSize":25,"dx":61},
   "encoding":{"x":{"field":"x","type":"quantitative","axis":null},"y":{"field":"y","type":"quantitative","axis":null}}}
 ]},
{"width":673,"height":379,
 "resolve":{"axis":{"x":"independent","y":"independent"}},
 "layer":[
  {"data":{"name":"p4mod"},"mark":{"type":"line","strokeWidth":2.5,"clip":true},
   "encoding":{
    "x":{"field":"x","type":"quantitative","scale":{"domain":[-672,672],"nice":false,"zero":false},"axis":{"orient":"bottom","values":[-650,-550,-500,-450,-350,-300,-250,-150,-100,-50,50,100,150,250,300,350,450,500,550,650],"tickSize":-5,"labels":false,"title":null}},
    "y":{"field":"y","type":"quantitative","scale":{"domain":[0.6,4.5],"nice":false,"zero":false},"axis":{"orient":"left","values":[0.7,0.8,0.9,1.1,1.2,1.3,1.4,1.5,1.6,1.7,1.8,1.9,2.1,2.2,2.3,2.4,2.5,2.6,2.7,2.8,2.9,3.1,3.2,3.3,3.4,3.5,3.6,3.7,3.8,3.9,4.1,4.2,4.3,4.4],"tickSize":-7,"labels":false,"title":null}},
    "color":{"field":"s","type":"nominal","scale":{"domain":["0.58","0.24","0.04"],"range":["#000000","#0000ff","#00ff00"]},"legend":null},
    "strokeDash":{"field":"s","type":"nominal","scale":{"domain":["0.58","0.24","0.04"],"range":[[1,0],[5,11],[26,14]]},"legend":null}
   }},
  {"data":{"name":"p4obs"},"mark":{"type":"line","color":"#777777","strokeWidth":2.5,"clip":true},
   "encoding":{
    "x":{"field":"x","type":"quantitative","axis":{"orient":"bottom","values":[-600,-400,-200,0,200,400,600],"format":"d","tickSize":-10,"labelPadding":27,"title":"υ(km/s)","titlePadding":4}},
    "y":{"field":"y","type":"quantitative","axis":{"orient":"left","values":[1,2,3,4],"format":"d","tickSize":-13,"labelPadding":22,"title":"Relative\u00a0\u00a0Flux","titlePadding":18}}
   }},
  {"data":{"name":"p4obs"},"mark":{"type":"line","opacity":0},
   "encoding":{
    "x":{"field":"x","type":"quantitative","axis":{"orient":"top","values":[-600,-400,-200,0,200,400,600],"tickSize":-10,"labels":false,"title":null}},
    "y":{"field":"y","type":"quantitative","axis":{"orient":"right","values":[1,2,3,4],"tickSize":-13,"labels":false,"title":null}}
   }},
  {"data":{"name":"p4obs"},"mark":{"type":"line","opacity":0},
   "encoding":{
    "x":{"field":"x","type":"quantitative","axis":{"orient":"top","values":[-650,-550,-500,-450,-350,-300,-250,-150,-100,-50,50,100,150,250,300,350,450,500,550,650],"tickSize":-5,"labels":false,"title":null}},
    "y":{"field":"y","type":"quantitative","axis":{"orient":"right","values":[0.7,0.8,0.9,1.1,1.2,1.3,1.4,1.5,1.6,1.7,1.8,1.9,2.1,2.2,2.3,2.4,2.5,2.6,2.7,2.8,2.9,3.1,3.2,3.3,3.4,3.5,3.6,3.7,3.8,3.9,4.1,4.2,4.3,4.4],"tickSize":-7,"labels":false,"title":null}}
   }},
  {"data":{"values":[{"x":-504,"y":3.5}]},"mark":{"type":"text","text":"τ","align":"left","baseline":"alphabetic","fontSize":30,"fontWeight":"bold","fontStyle":"italic"},
   "encoding":{"x":{"field":"x","type":"quantitative","axis":null},"y":{"field":"y","type":"quantitative","axis":null}}},
  {"data":{"values":[{"x":-504,"y":3.5}]},"mark":{"type":"text","text":"obs","align":"left","baseline":"alphabetic","fontSize":15,"fontWeight":"bold","dx":19,"dy":11},
   "encoding":{"x":{"field":"x","type":"quantitative","axis":null},"y":{"field":"y","type":"quantitative","axis":null}}},
  {"data":{"values":[{"x":-504,"y":3.5}]},"mark":{"type":"text","text":"=\u00a0\u00a0\u00a00.28","align":"left","baseline":"alphabetic","fontSize":25,"dx":58},
   "encoding":{"x":{"field":"x","type":"quantitative","axis":null},"y":{"field":"y","type":"quantitative","axis":null}}}
 ]}
]
}
